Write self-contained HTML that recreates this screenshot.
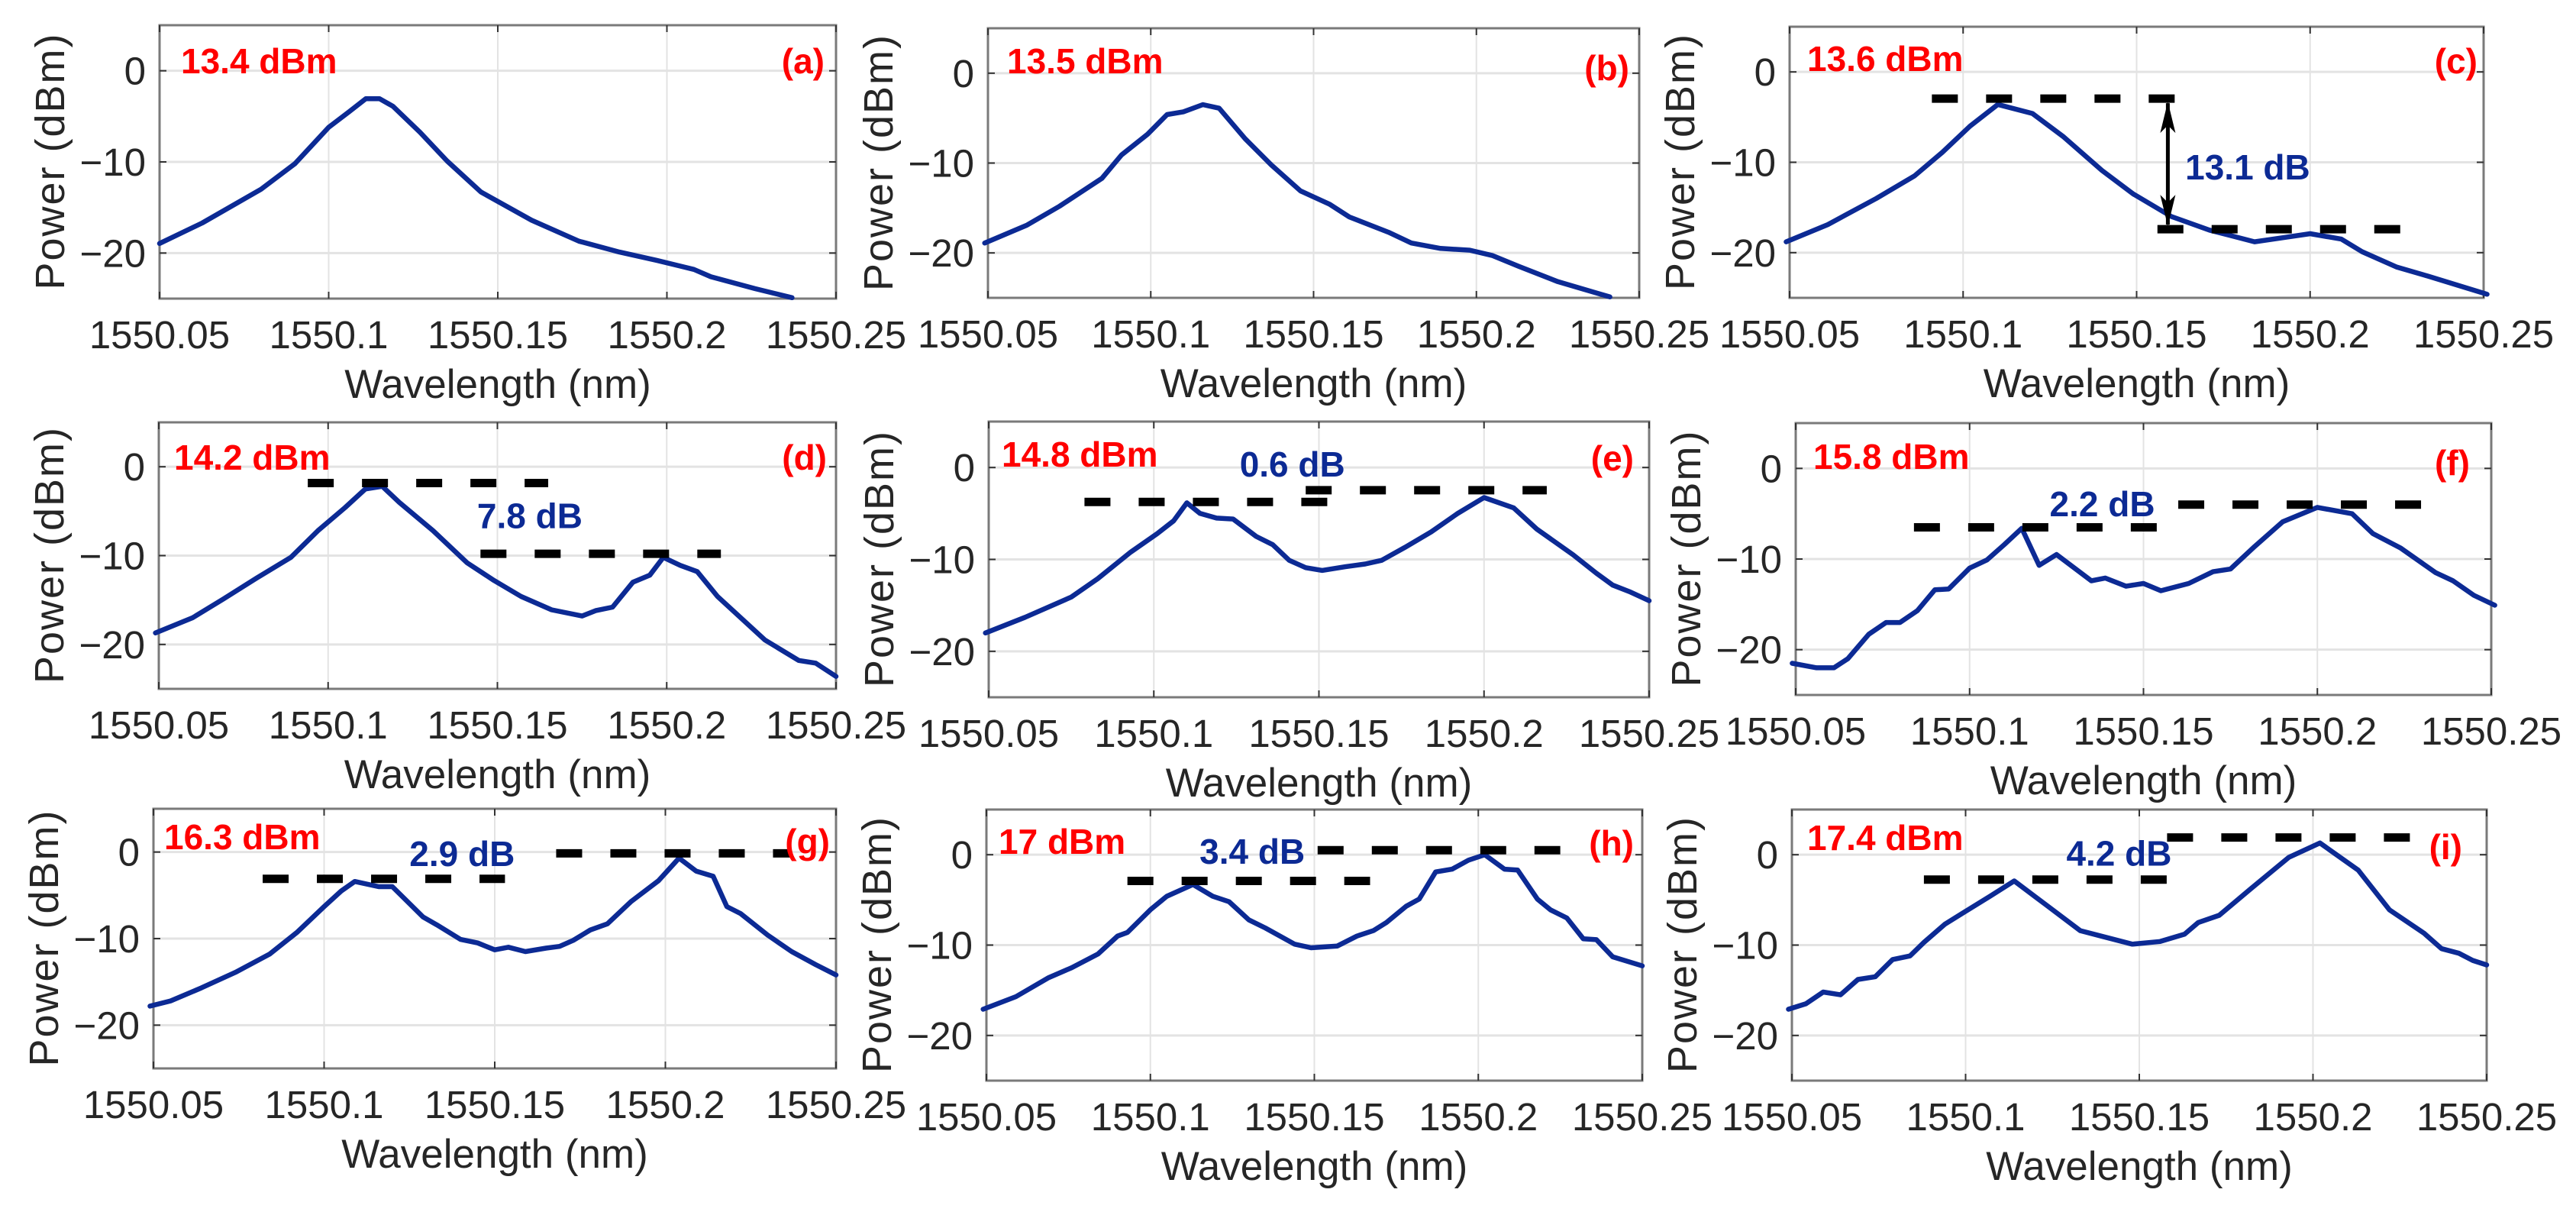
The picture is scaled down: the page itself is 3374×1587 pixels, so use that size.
<!DOCTYPE html>
<html><head><meta charset="utf-8"><style>
html,body{margin:0;padding:0;background:#fff;}
svg{display:block;}
text{font-family:"Liberation Sans",Arial,sans-serif;}
</style></head><body>
<svg id="fig" width="3374" height="1587" viewBox="0 0 3374 1587" xmlns="http://www.w3.org/2000/svg"></svg>
<script>
// ---- data (wavelength nm, power dBm) ----
const xTicks = [1550.05, 1550.1, 1550.15, 1550.2, 1550.25];
const xTickLabels = ["1550.05", "1550.1", "1550.15", "1550.2", "1550.25"];
const yTicks = [0, -10, -20];
const yTickLabels = ["0", "\u221210", "\u221220"];
const panelIds = ["a","b","c","d","e","f","g","h","i"];
const pumpLabels = ["13.4 dBm","13.5 dBm","13.6 dBm","14.2 dBm","14.8 dBm","15.8 dBm","16.3 dBm","17 dBm","17.4 dBm"];
const dbLabels = ["","","13.1 dB","7.8 dB","0.6 dB","2.2 dB","2.9 dB","3.4 dB","4.2 dB"];

const aWl = [1550.05,1550.0626,1550.080,1550.090,1550.100,1550.106,1550.111,1550.115,1550.119,1550.127,1550.135,1550.145,1550.160,1550.174,1550.186,1550.197,1550.208,1550.213,1550.226,1550.237];
const aPw = [-18.95,-16.7,-13.0,-10.2,-6.2,-4.5,-3.06,-3.06,-3.9,-6.75,-9.9,-13.3,-16.4,-18.7,-19.9,-20.8,-21.8,-22.6,-23.9,-24.9];
const bWl = [1550.049,1550.062,1550.072,1550.085,1550.091,1550.099,1550.105,1550.110,1550.116,1550.121,1550.129,1550.137,1550.146,1550.155,1550.161,1550.173,1550.180,1550.189,1550.198,1550.205,1550.213,1550.225,1550.241];
const bPw = [-18.9,-16.9,-14.8,-11.7,-9.1,-6.8,-4.6,-4.3,-3.5,-3.9,-7.3,-10.2,-13.1,-14.6,-16.0,-17.7,-18.9,-19.5,-19.7,-20.3,-21.5,-23.2,-24.9];
const cWl = [1550.049,1550.061,1550.075,1550.086,1550.094,1550.102,1550.110,1550.120,1550.129,1550.140,1550.149,1550.160,1550.171,1550.184,1550.193,1550.200,1550.209,1550.215,1550.225,1550.234,1550.251];
const cPw = [-18.8,-16.9,-14.0,-11.5,-8.9,-6.0,-3.6,-4.6,-7.2,-10.9,-13.5,-16.0,-17.5,-18.8,-18.3,-17.9,-18.5,-19.9,-21.6,-22.6,-24.6];
const dWl = [1550.049,1550.060,1550.069,1550.079,1550.089,1550.097,1550.105,1550.111,1550.116,1550.121,1550.131,1550.141,1550.149,1550.157,1550.166,1550.175,1550.179,1550.184,1550.190,1550.195,1550.199,1550.204,1550.209,1550.215,1550.229,1550.239,1550.244,1550.250];
const dPw = [-18.7,-17.0,-14.9,-12.5,-10.2,-7.2,-4.6,-2.5,-2.2,-4.0,-7.2,-10.8,-12.8,-14.6,-16.1,-16.8,-16.2,-15.8,-13.0,-12.2,-10.2,-11.1,-11.8,-14.6,-19.5,-21.8,-22.1,-23.6];
const eWl = [1550.049,1550.061,1550.075,1550.083,1550.093,1550.101,1550.106,1550.110,1550.114,1550.119,1550.124,1550.131,1550.136,1550.141,1550.146,1550.151,1550.158,1550.164,1550.169,1550.176,1550.184,1550.192,1550.200,1550.209,1550.216,1550.227,1550.234,1550.239,1550.244,1550.250];
const ePw = [-18.0,-16.3,-14.1,-12.1,-9.2,-7.2,-5.8,-3.84,-5.0,-5.5,-5.6,-7.5,-8.4,-10.1,-10.9,-11.2,-10.8,-10.5,-10.1,-8.7,-7.0,-5.0,-3.27,-4.4,-6.7,-9.5,-11.5,-12.8,-13.5,-14.5];
const fWl = [1550.049,1550.056,1550.061,1550.065,1550.071,1550.076,1550.080,1550.085,1550.090,1550.094,1550.100,1550.105,1550.110,1550.115,1550.120,1550.125,1550.135,1550.139,1550.145,1550.150,1550.155,1550.163,1550.170,1550.175,1550.182,1550.190,1550.200,1550.210,1550.216,1550.224,1550.234,1550.239,1550.245,1550.251];
const fPw = [-21.5,-22.0,-22.0,-21.0,-18.3,-17.0,-17.0,-15.7,-13.4,-13.3,-11.0,-10.1,-8.4,-6.6,-10.7,-9.5,-12.4,-12.1,-13.0,-12.7,-13.5,-12.7,-11.4,-11.1,-8.6,-5.9,-4.3,-5.0,-7.2,-8.8,-11.5,-12.4,-14.0,-15.1];
const gWl = [1550.049,1550.055,1550.064,1550.074,1550.084,1550.092,1550.100,1550.105,1550.109,1550.116,1550.120,1550.129,1550.133,1550.140,1550.145,1550.150,1550.154,1550.159,1550.165,1550.169,1550.173,1550.178,1550.183,1550.190,1550.198,1550.204,1550.209,1550.214,1550.218,1550.222,1550.230,1550.237,1550.244,1550.250];
const gPw = [-17.8,-17.2,-15.7,-13.9,-11.8,-9.3,-6.3,-4.5,-3.4,-4.0,-4.0,-7.5,-8.4,-10.1,-10.5,-11.3,-11.0,-11.5,-11.1,-10.9,-10.2,-9.0,-8.3,-5.7,-3.3,-0.7,-2.2,-2.8,-6.3,-7.1,-9.6,-11.5,-13.0,-14.2];
const hWl = [1550.049,1550.059,1550.069,1550.076,1550.084,1550.090,1550.093,1550.100,1550.105,1550.113,1550.119,1550.124,1550.130,1550.135,1550.144,1550.149,1550.157,1550.163,1550.168,1550.172,1550.178,1550.182,1550.187,1550.192,1550.197,1550.202,1550.208,1550.212,1550.218,1550.222,1550.227,1550.232,1550.236,1550.241,1550.250];
const hPw = [-17.1,-15.7,-13.6,-12.5,-11.0,-9.0,-8.6,-6.1,-4.6,-3.3,-4.6,-5.2,-7.2,-8.1,-9.9,-10.3,-10.1,-9.0,-8.4,-7.5,-5.7,-4.9,-1.9,-1.6,-0.6,0.0,-1.6,-1.7,-4.9,-6.1,-7.0,-9.3,-9.4,-11.3,-12.3];
const iWl = [1550.049,1550.054,1550.059,1550.064,1550.069,1550.074,1550.079,1550.084,1550.088,1550.094,1550.099,1550.107,1550.114,1550.123,1550.133,1550.139,1550.148,1550.156,1550.163,1550.167,1550.173,1550.182,1550.193,1550.202,1550.213,1550.222,1550.232,1550.237,1550.242,1550.246,1550.250];
const iPw = [-17.1,-16.5,-15.2,-15.5,-13.8,-13.5,-11.6,-11.2,-9.7,-7.7,-6.5,-4.6,-2.9,-5.5,-8.4,-9.0,-9.9,-9.6,-8.8,-7.5,-6.7,-3.8,-0.3,1.3,-1.7,-6.1,-8.7,-10.4,-10.9,-11.7,-12.2];

// dashed reference levels: [startWl, endWl, level]
const cDashLow = [1550.091,1550.161,-2.95];
const cDashHigh = [1550.156,1550.226,-17.4];
const dDashLow = [1550.094,1550.165,-1.83];
const dDashHigh = [1550.145,1550.216,-9.8];
const eDashLow = [1550.079,1550.153,-3.75];
const eDashHigh = [1550.146,1550.219,-2.47];
const fDashLow = [1550.084,1550.155,-6.5];
const fDashHigh = [1550.160,1550.230,-4.0];
const gDashLow = [1550.082,1550.153,-3.1];
const gDashHigh = [1550.168,1550.237,-0.15];
const hDashLow = [1550.093,1550.167,-2.9];
const hDashHigh = [1550.151,1550.225,0.5];
const iDashLow = [1550.088,1550.159,-2.75];
const iDashHigh = [1550.158,1550.228,1.9];
// dB-label anchor [wl, dBm]
const dbLabelPos = [null,null,[1550.164,-11.9],[1550.144,-6.9],[1550.126,-1.0],[1550.123,-5.3],[1550.125,-1.6],[1550.115,-1.0],[1550.129,-1.2]];
const arrowC = [1550.159,-2.95,-17.4];

// ---- layout ----
const boxes = [
 [209,33,1095,391],[1294,37,2147,390],[2344,35,3253,390],
 [208,553,1095,902],[1295,552,2160,913],[2352,554,3263,910],
 [201,1059,1095,1399],[1292,1060,2151,1415],[2347,1060,3257,1415]];
const redPos = [[237,96],[1319,96],[2367,93],[228,615],[1312,611],[2375,614],[215,1112],[1308,1118],[2367,1113]];
const letterPos = [[1080,96],[2134,105],[3245,96],[1083,615],[2140,616],[3235,622],[1087,1118],[2140,1120],[3225,1125]];
const series = [[aWl,aPw],[bWl,bPw],[cWl,cPw],[dWl,dPw],[eWl,ePw],[fWl,fPw],[gWl,gPw],[hWl,hPw],[iWl,iPw]];
const dashSets = [[],[],[cDashLow,cDashHigh],[dDashLow,dDashHigh],[eDashLow,eDashHigh],[fDashLow,fDashHigh],[gDashLow,gDashHigh],[hDashLow,hDashHigh],[iDashLow,iDashHigh]];

const NS = "http://www.w3.org/2000/svg";
const fig = document.getElementById('fig');
function mk(tag, attrs, parent){
  const e = document.createElementNS(NS, tag);
  for (const k in attrs) e.setAttribute(k, attrs[k]);
  (parent||fig).appendChild(e);
  return e;
}

panelIds.forEach((id, p) => {
  const [L,T,R,B] = boxes[p];
  const xs = v => L + (v - 1550.05) / 0.2 * (R - L);
  const ys = v => T + (5 - v) / 30 * (B - T);
  const g = mk('g', {});
  
  

  xTicks.forEach(t => {
    const ln = mk('line', {x1:xs(t), x2:xs(t), y1:T, y2:B, stroke:'#e3e3e3', 'stroke-width':2}, g);
    
    
  });
  yTicks.forEach(t => {
    const ln = mk('line', {x1:L, x2:R, y1:ys(t), y2:ys(t), stroke:'#e3e3e3', 'stroke-width':3}, g);
    
    
  });
  const box = mk('rect', {x:L, y:T, width:R-L, height:B-T, fill:'none', stroke:'#7a7a7a', 'stroke-width':3}, g);
  
  
  xTicks.forEach((t, k) => {
    mk('line', {x1:xs(t), x2:xs(t), y1:B, y2:B-9, stroke:'#333', 'stroke-width':2}, g);
    mk('line', {x1:xs(t), x2:xs(t), y1:T, y2:T+9, stroke:'#333', 'stroke-width':2}, g);
    const tx = mk('text', {x:xs(t), y:B+65, 'font-size':51, fill:'#262626', 'text-anchor':'middle'}, g);
    tx.textContent = xTickLabels[k];
    
    
  });
  yTicks.forEach((t, k) => {
    mk('line', {x1:L, x2:L+9, y1:ys(t), y2:ys(t), stroke:'#333', 'stroke-width':2}, g);
    mk('line', {x1:R, x2:R-9, y1:ys(t), y2:ys(t), stroke:'#333', 'stroke-width':2}, g);
    const tx = mk('text', {x:L-18, y:ys(t)+18, 'font-size':51, fill:'#262626', 'text-anchor':'end'}, g);
    tx.textContent = yTickLabels[k];
    
    
  });
  const xt = mk('text', {x:(L+R)/2, y:B+130, 'font-size':53, fill:'#262626', 'text-anchor':'middle'}, g);
  xt.textContent = 'Wavelength (nm)';
  
  
  const cy = (T+B)/2, cx = L-125;
  const yt = mk('text', {x:cx, y:cy, 'font-size':54, fill:'#262626', 'text-anchor':'middle', transform:`rotate(-90 ${cx} ${cy})`, textLength:335, lengthAdjust:'spacing'}, g);
  yt.textContent = 'Power (dBm)';
  
  

  const [wl, pw] = series[p];
  const d = wl.map((w, k) => (k ? 'L' : 'M') + xs(w).toFixed(1) + ',' + ys(pw[k]).toFixed(1)).join(' ');
  const path = mk('path', {d:d, fill:'none', stroke:'#0c2a94', 'stroke-width':6.5, 'stroke-linejoin':'round', 'stroke-linecap':'round'}, g);
  
  

  dashSets[p].forEach(ds => {
    const ln = mk('line', {x1:xs(ds[0]), x2:xs(ds[1]), y1:ys(ds[2]), y2:ys(ds[2]), stroke:'#000', 'stroke-width':11, 'stroke-dasharray':'34 37'}, g);
    
    
  });
  if (id === 'c') {
    const ax = xs(arrowC[0]), y1 = ys(arrowC[1]), y2 = ys(arrowC[2]);
    const ar = mk('g', {}, g);
    
    
    mk('line', {x1:ax, x2:ax, y1:y1+6, y2:y2-6, stroke:'#000', 'stroke-width':5}, ar);
    mk('path', {d:`M${ax},${y1+4} L${ax-10},${y1+45} L${ax},${y1+35} L${ax+10},${y1+45} Z`, fill:'#000'}, ar);
    mk('path', {d:`M${ax},${y2-4} L${ax-10},${y2-45} L${ax},${y2-35} L${ax+10},${y2-45} Z`, fill:'#000'}, ar);
  }
  if (dbLabels[p]) {
    const pos = dbLabelPos[p];
    const t = mk('text', {x:xs(pos[0]), y:ys(pos[1]), 'font-size':46, 'font-weight':'bold', fill:'#0c2a94'}, g);
    t.textContent = dbLabels[p];
    
    
  }
  const rl = mk('text', {x:redPos[p][0], y:redPos[p][1], 'font-size':46, 'font-weight':'bold', fill:'#ff0000'}, g);
  rl.textContent = pumpLabels[p];
  
  
  const lt = mk('text', {x:letterPos[p][0], y:letterPos[p][1], 'font-size':46, 'font-weight':'bold', fill:'#ff0000', 'text-anchor':'end'}, g);
  lt.textContent = '(' + id + ')';
  
  
});
</script>
</body></html>
